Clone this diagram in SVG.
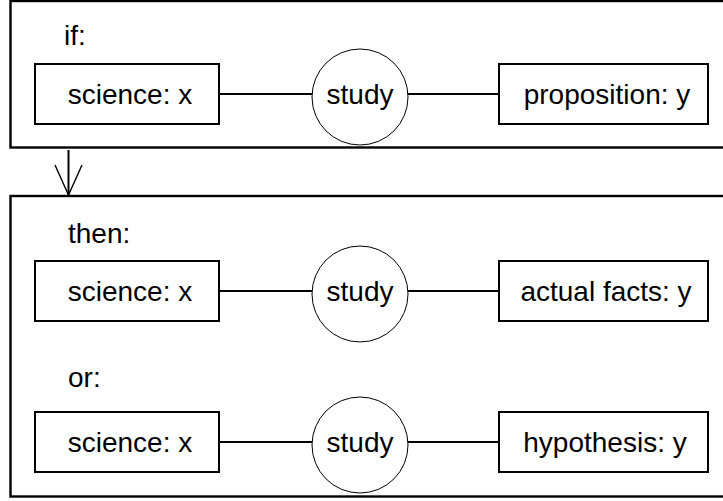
<svg xmlns="http://www.w3.org/2000/svg" width="723" height="501" viewBox="0 0 723 501">
<style>
.frame{fill:none;stroke:#000;stroke-width:2.4}
.box{fill:#fff;stroke:#000;stroke-width:2}
.circ{fill:#fff;stroke:#000;stroke-width:1}
.edge{fill:none;stroke:#000;stroke-width:2}
.arw{fill:none;stroke:#000;stroke-width:1.4}
text{font-family:"Liberation Sans","DejaVu Sans",sans-serif;font-size:28px;fill:#000}
.c{text-anchor:middle}
</style>
<rect class="frame" x="10.5" y="1" width="720" height="146.5"/>
<rect class="frame" x="10.5" y="196" width="720" height="300.5"/>
<text x="64" y="45">if:</text>
<text x="68" y="243">then:</text>
<text x="68" y="387">or:</text>
<g id="connectors">
<line class="edge" x1="219" y1="94" x2="312" y2="94"/>
<line class="edge" x1="408" y1="94" x2="499" y2="94"/>
<line class="edge" x1="219" y1="291" x2="312" y2="291"/>
<line class="edge" x1="408" y1="291" x2="499" y2="291"/>
<line class="edge" x1="219" y1="442" x2="312" y2="442"/>
<line class="edge" x1="408" y1="442" x2="499" y2="442"/>
<line class="edge" x1="68.5" y1="150" x2="68.5" y2="195"/>
<polyline class="arw" points="55,165 68.5,195 82,165"/>
</g>
<g id="sci1"><rect class="box" x="35" y="64" width="184" height="60"/><text class="c" x="130" y="104">science: x</text></g>
<g id="study1"><circle class="circ" cx="360" cy="97" r="48"/><text class="c" x="360" y="104">study</text></g>
<g id="prop"><rect class="box" x="499" y="64" width="209" height="60"/><text class="c" x="607" y="104">proposition: y</text></g>
<g id="sci2"><rect class="box" x="35" y="261" width="184" height="60"/><text class="c" x="130" y="301">science: x</text></g>
<g id="study2"><circle class="circ" cx="360" cy="294" r="48"/><text class="c" x="360" y="301">study</text></g>
<g id="facts"><rect class="box" x="499" y="261" width="209" height="60"/><text class="c" x="606" y="301">actual facts: y</text></g>
<g id="sci3"><rect class="box" x="35" y="412" width="184" height="60"/><text class="c" x="130" y="452">science: x</text></g>
<g id="study3"><circle class="circ" cx="360" cy="445" r="48"/><text class="c" x="360" y="452">study</text></g>
<g id="hyp"><rect class="box" x="499" y="412" width="209" height="60"/><text class="c" x="605" y="452">hypothesis: y</text></g>
</svg>
